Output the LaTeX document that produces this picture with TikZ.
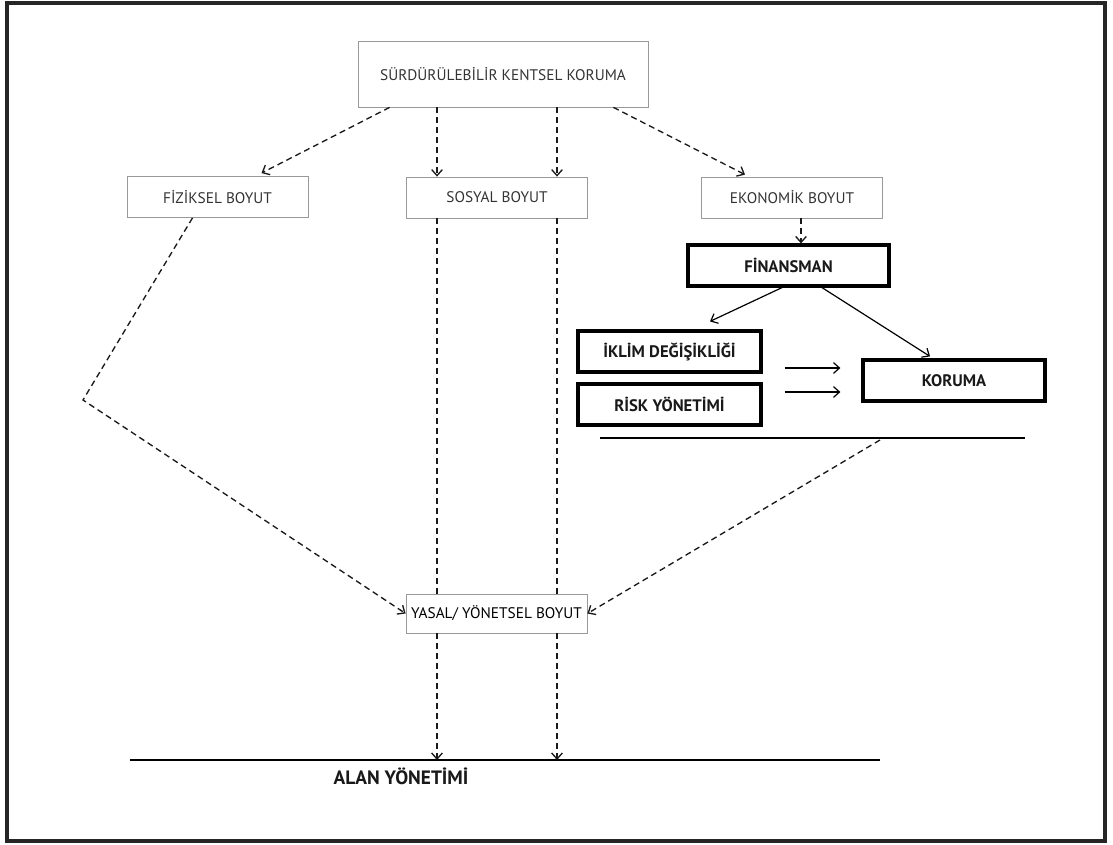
\documentclass[tikz,border=0pt]{standalone}
\usepackage{fontspec}
\setmainfont{PT Sans}
\usetikzlibrary{arrows.meta,calc}

\begin{document}
\begin{tikzpicture}[x=0.75pt, y=-0.75pt, >={Straight Barb[length=4.5pt,width=8pt]},
	every node/.style={font=\fontsize{11.5}{13}\selectfont, text=black!80, inner sep=0pt},
	thinbox/.style={draw=black!40, line width=0.6pt, minimum width=135.75pt, minimum height=30.75pt},
	thickbox/.style={draw=black, line width=2.4pt, minimum height=30.75pt, text=black!90,
		font=\fontsize{12.5}{14}\selectfont\bfseries},
	dashline/.style={line width=1pt, dash pattern=on 4.5pt off 3pt, black!90},
	solidline/.style={line width=0.9pt}]
	\useasboundingbox (0,0) rectangle (1113,845);
	\draw[line width=2.4pt, black!85] (7,3) rectangle (1105,841);
	% boxes
	\node[thinbox, minimum width=217.5pt, minimum height=49.5pt] (tb) at (503,74) {SÜRDÜRÜLEBİLİR KENTSEL KORUMA};
	\node[thinbox] (fiz) at (217.5,197) {FİZİKSEL BOYUT};
	\node[thinbox] (sos) at (497,197.5) {SOSYAL BOYUT};
	\node[thinbox] (eko) at (792,197.5) {EKONOMİK BOYUT};
	\node[thickbox, minimum width=150.75pt] (fin) at (788.5,265.5) {FİNANSMAN};
	\node[thickbox, minimum width=137.25pt] (ikl) at (669.5,351.5) {İKLİM DEĞİŞİKLİĞİ};
	\node[thickbox, minimum width=137.25pt] (risk) at (669.5,404.5) {RİSK YÖNETİMİ};
	\node[thickbox, minimum width=136.5pt] (kor) at (954,380.5) {KORUMA};
	\node[thinbox, minimum height=29.25pt, text=black, font=\fontsize{11.5}{13}\selectfont] (yas) at (496.5,613.5) {YASAL/ YÖNETSEL BOYUT};
	\node[font=\fontsize{14.5}{16}\selectfont\bfseries, text=black!90] (alan) at (401,776) {ALAN YÖNETİMİ};
	% lines and free ends
	\coordinate (v1) at (437,0);
	\coordinate (v2) at (557,0);
	\coordinate (ln1a) at (600,438);
	\coordinate (ln1b) at (1025,438);
	\coordinate (bl1) at (130,760);
	\coordinate (bl2) at (880,760);
	\coordinate (bend) at (83,400);
	\draw[solidline] (ln1a) -- (ln1b);
	\draw[solidline] (bl1) -- (bl2);
	% dashed connectors
	\draw[dashline,->] ($(tb.south west)+(32,0)$) -- ($(fiz.north)+(44,-3)$);
	\draw[dashline,->] (tb.south -| v1) -- (sos.north -| v1);
	\draw[dashline,->] (tb.south -| v2) -- (sos.north -| v2);
	\draw[dashline,->] ($(tb.south east)+(-35,0)$) -- ($(eko.north)+(-47,-2)$);
	\draw[dashline] (sos.south -| v1) -- (yas.north -| v1);
	\draw[dashline] (sos.south -| v2) -- (yas.north -| v2);
	\draw[dashline,->] (yas.south -| v1) -- (bl1 -| v1);
	\draw[dashline,->] (yas.south -| v2) -- (bl1 -| v2);
	\draw[dashline,->] ($(fiz.south)+(-25,0)$) -- (bend) -- (yas.west);
	\draw[dashline,->] ($(ln1b)+(-145,2)$) -- (yas.east);
	\draw[dashline,->] ($(eko.south)+(9,0)$) -- ($(fin.north)+(12.5,0)$);
	% solid connectors
	\draw[solidline,->] ($(fin.south)+(-6.5,0)$) -- ($(ikl.north)+(40.5,-8)$);
	\draw[solidline,->] ($(fin.south)+(33.5,0)$) -- ($(kor.north)+(-24,-2)$);
	\draw[solidline,->] ($(ikl.east)+(22,16.5)$) -- ($(kor.west)+(-21,-12.5)$);
	\draw[solidline,->] ($(risk.east)+(22,-12.5)$) -- ($(kor.west)+(-21,11.5)$);
\end{tikzpicture}
\end{document}
